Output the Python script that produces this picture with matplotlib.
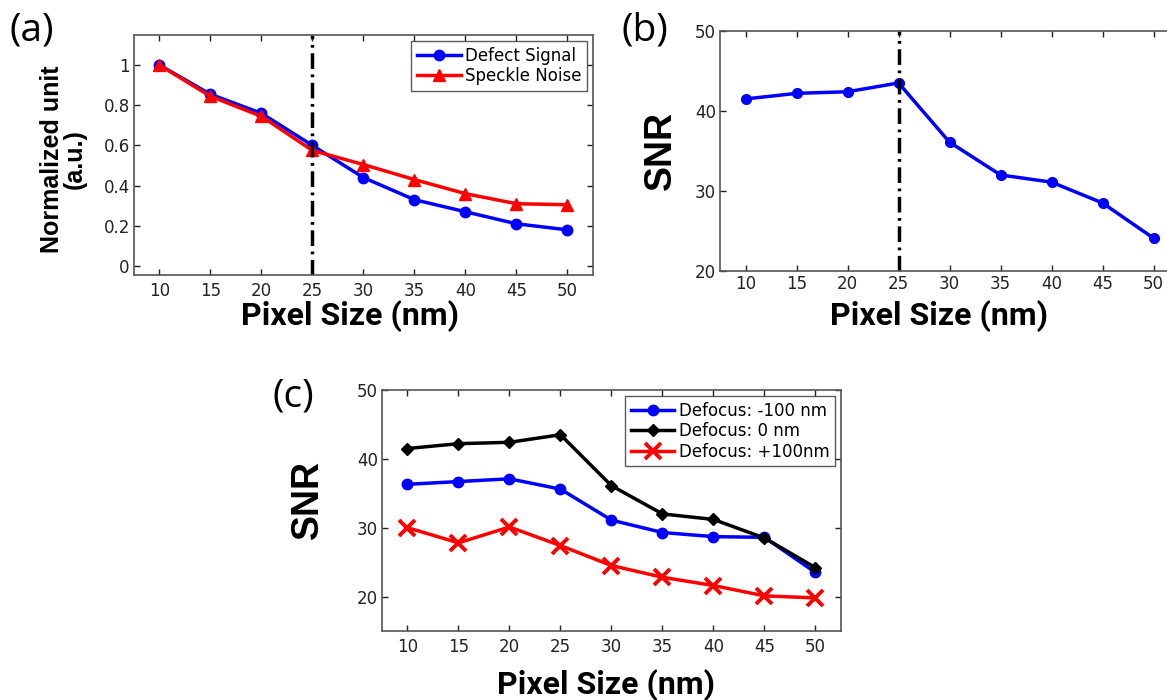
import matplotlib
matplotlib.use("Agg")
import matplotlib.pyplot as plt

pixel_size = [10, 15, 20, 25, 30, 35, 40, 45, 50]
defect_signal = [1.0, 0.855, 0.76, 0.60, 0.44, 0.33, 0.27, 0.21, 0.18]
speckle_noise = [1.0, 0.845, 0.745, 0.575, 0.505, 0.43, 0.36, 0.31, 0.305]
snr_b = [41.5, 42.2, 42.4, 43.5, 36.1, 32.0, 31.1, 28.5, 24.1]
snr_m100 = [36.3, 36.7, 37.1, 35.6, 31.1, 29.3, 28.7, 28.6, 23.5]
snr_0 = [41.5, 42.2, 42.4, 43.5, 36.1, 32.0, 31.2, 28.5, 24.2]
snr_p100 = [30.0, 27.8, 30.1, 27.4, 24.5, 22.8, 21.6, 20.1, 19.8]
a_yticks = [0, 0.2, 0.4, 0.6, 0.8, 1]
a_yticklabels = ["0", "0.2", "0.4", "0.6", "0.8", "1"]
snr_yticks = [20, 30, 40, 50]

plt.rcParams['font.family'] = ['DejaVu Sans']

fig = plt.figure(figsize=(11.67, 7.0), dpi=100)

frame_col = '#555555'
dashdot = (0, (4.5, 1.6, 0.8, 1.6))

def style(ax, xpad=5, ypad=3):
    ax.tick_params(direction='in', top=True, right=True, labelsize=12,
                   length=4, width=1, colors='#222222')
    ax.tick_params(axis='x', pad=xpad)
    ax.tick_params(axis='y', pad=ypad)
    for s in ax.spines.values():
        s.set_color(frame_col)
        s.set_linewidth(1.2)

xlab_font = dict(family='Roboto', fontweight='bold', fontsize=23)
ylab_font = dict(family=['Liberation Sans', 'DejaVu Sans'], fontweight='bold')
leg_kw = dict(loc='upper right', fontsize=12, frameon=True, fancybox=False,
              edgecolor='#333333', handlelength=2.6, handletextpad=0.25,
              borderaxespad=0.35, borderpad=0.35, labelspacing=0.15)
panel_font = dict(family='Open Sans', fontsize=28, ha='center', va='center')

# (a)
ax1 = fig.add_axes([0.1148, 0.6071, 0.3933, 0.3429])
ax1.plot(pixel_size, defect_signal, '-o', color='#0000ff', lw=2.5, ms=7.5, label='Defect Signal')
ax1.plot(pixel_size, speckle_noise, '-^', color='#ff0000', lw=2.5, ms=8, label='Speckle Noise')
ax1.axvline(25, color='black', lw=2.5, ls=dashdot)
ax1.set_xlim(7.5, 52.5)
ax1.set_ylim(-0.045, 1.15)
ax1.set_xticks(pixel_size)
ax1.set_yticks(a_yticks)
ax1.set_yticklabels(a_yticklabels)
style(ax1)
ax1.set_xlabel('Pixel Size (nm)', **xlab_font)
ax1.xaxis.set_label_coords(0.471, -0.105)
ax1.set_ylabel('Normalized unit\n(a.u.)', fontsize=18, linespacing=0.95, **ylab_font)
ax1.yaxis.set_label_coords(-0.103, 0.483)
leg = ax1.legend(**leg_kw)
leg.get_frame().set_linewidth(1.0)
fig.text(32 / 1167, 1 - 30 / 700, '(a)', **panel_font)

# (b)
ax2 = fig.add_axes([0.617, 0.6129, 0.3933, 0.3429])
ax2.plot(pixel_size, snr_b, '-o', color='#0000ff', lw=2.5, ms=7)
ax2.axvline(25, color='black', lw=2.5, ls=dashdot)
ax2.set_xlim(7.5, 52.5)
ax2.set_ylim(20, 50)
ax2.set_xticks(pixel_size)
ax2.set_yticks(snr_yticks)
style(ax2, xpad=3)
ax2.set_xlabel('Pixel Size (nm)', **xlab_font)
ax2.xaxis.set_label_coords(0.477, -0.12)
ax2.set_ylabel('SNR', fontsize=27, **ylab_font)
ax2.yaxis.set_label_coords(-0.09, 0.5)
fig.text(645 / 1167, 1 - 30 / 700, '(b)', **panel_font)

# (c)
ax3 = fig.add_axes([0.3273, 0.0986, 0.3933, 0.3443])
ax3.plot(pixel_size, snr_m100, '-o', color='#0000ff', lw=2.5, ms=7.5, label='Defocus: -100 nm')
ax3.plot(pixel_size, snr_0, '-D', color='#000000', lw=2.5, ms=6.5, label='Defocus: 0 nm')
ax3.plot(pixel_size, snr_p100, '-x', color='#ff0000', lw=2.5, ms=12, mew=2.8, label='Defocus: +100nm')
ax3.set_xlim(7.5, 52.5)
ax3.set_ylim(15, 50)
ax3.set_xticks(pixel_size)
ax3.set_yticks(snr_yticks)
style(ax3)
ax3.set_xlabel('Pixel Size (nm)', **xlab_font)
ax3.xaxis.set_label_coords(0.489, -0.158)
ax3.set_ylabel('SNR', fontsize=27, **ylab_font)
ax3.yaxis.set_label_coords(-0.122, 0.544)
leg3 = ax3.legend(**leg_kw)
leg3.get_frame().set_linewidth(1.0)
fig.text(293 / 1167, 1 - 397 / 700, '(c)', **panel_font)

fig.savefig('out.png', dpi=100)
